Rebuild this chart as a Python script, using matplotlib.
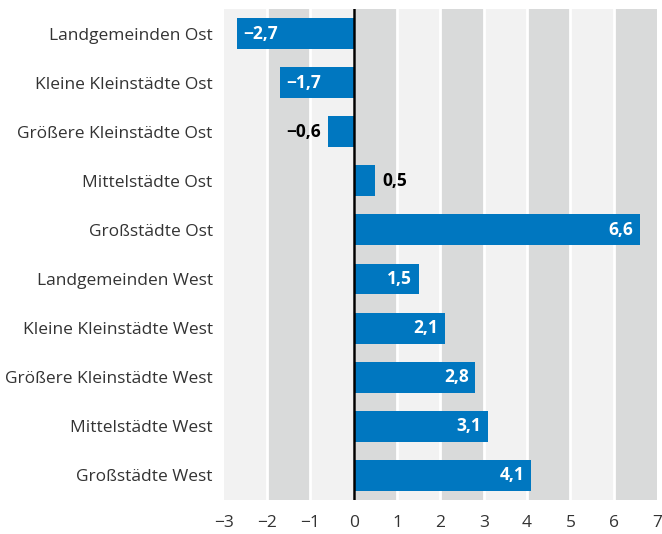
import matplotlib
matplotlib.use("Agg")
import matplotlib.pyplot as plt

categories = ["Landgemeinden Ost", "Kleine Kleinstädte Ost", "Größere Kleinstädte Ost",
              "Mittelstädte Ost", "Großstädte Ost", "Landgemeinden West",
              "Kleine Kleinstädte West", "Größere Kleinstädte West",
              "Mittelstädte West", "Großstädte West"]
values = [-2.7, -1.7, -0.6, 0.5, 6.6, 1.5, 2.1, 2.8, 3.1, 4.1]
xticks = [-3, -2, -1, 0, 1, 2, 3, 4, 5, 6, 7]

plt.rcParams['font.family'] = ['Open Sans', 'DejaVu Sans']

fig = plt.figure(figsize=(6.62, 5.34), dpi=100)
ax = fig.add_axes([0.338, 0.0637, 0.6545, 0.9195])

light, dark = "#f2f2f2", "#d9dada"
for i, x0 in enumerate(xticks[:-1]):
    ax.axvspan(x0, x0 + 1, color=light if i % 2 == 0 else dark, lw=0, zorder=0)
for x in xticks[1:-1]:
    ax.axvline(x, color="white", lw=2.0, zorder=0.5)

ypos = list(range(len(categories)))
ax.barh(ypos, values, height=0.63, color="#0077c0", zorder=2)
ax.axvline(0, color="black", lw=1.8, zorder=3)

def fmt(v):
    s = f"{abs(v):.1f}".replace(".", ",")
    return ("−" if v < 0 else "") + s

for y, v in zip(ypos, values):
    kw = dict(va="center", fontsize=12.5, fontweight="bold", zorder=4)
    if abs(v) >= 1:
        if v > 0:
            ax.text(v - 0.15, y, fmt(v), ha="right", color="white", **kw)
        else:
            ax.text(v + 0.15, y, fmt(v), ha="left", color="white", **kw)
    else:
        if v > 0:
            ax.text(v + 0.17, y, fmt(v), ha="left", color="black", **kw)
        else:
            ax.text(v - 0.17, y, fmt(v), ha="right", color="black", **kw)

ax.set_xlim(-3, 7)
ax.set_ylim(len(categories) - 0.5, -0.5)
ax.set_xticks(xticks)
ax.set_xticklabels([("−" + str(abs(t))) if t < 0 else str(t) for t in xticks])
ax.set_yticks(ypos)
ax.set_yticklabels(categories)
ax.tick_params(axis="both", length=0, colors="#333333")
ax.tick_params(axis="x", pad=11, labelsize=12.5)
ax.tick_params(axis="y", pad=8, labelsize=12.5)
for s in ax.spines.values():
    s.set_visible(False)

fig.savefig("out.png", dpi=100)
